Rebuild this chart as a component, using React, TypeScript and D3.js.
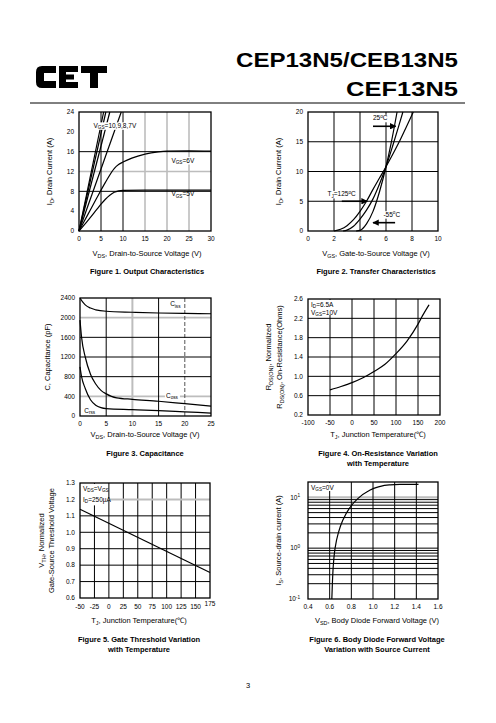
import React from "react";
import * as d3 from "d3";

type Pt = [number, number];
const FONT = "'Liberation Sans', Arial, Helvetica, sans-serif";

// ---------------- Figure 1 : Output characteristics ----------------
const fig1XTicks = [0, 5, 10, 15, 20, 25, 30];
const fig1YTicks = [0, 4, 8, 12, 16, 20, 24];
const fig1GridXBlack = [5, 10];
const fig1GridXGray = [15, 20, 25];
const fig1GridYBlack = [8, 16];
const fig1GridYGray = [12];
const fig1Vgs10: Pt[] = [[0, 0], [5.6, 24]];
const fig1Vgs9: Pt[] = [[0, 0], [6.1, 24]];
const fig1Vgs8: Pt[] = [[0, 0], [7.0, 24]];
const fig1Vgs7: Pt[] = [[0, 0], [9.6, 24]];
const fig1Vgs6: Pt[] = [[0, 0], [2, 3.3], [4, 6.6], [6, 9.8], [8, 12.6], [9, 13.4], [10, 13.9], [12, 14.7], [15, 15.5], [18, 15.95], [20, 16.1], [25, 16.15], [30, 16.1]];
const fig1Vgs5: Pt[] = [[0, 0], [2, 2.1], [4, 4.3], [5, 5.4], [6, 6.4], [7, 7.2], [8, 7.8], [9, 8.1], [10, 8.2], [15, 8.25], [30, 8.25]];

// ---------------- Figure 2 : Transfer characteristics ----------------
const fig2XTicks = [0, 2, 4, 6, 8, 10];
const fig2YTicks = [0, 5, 10, 15, 20];
const fig2GridX = [2, 4, 6, 8];
const fig2GridY = [5, 10, 15];
const fig2T125: Pt[] = [[2, 0], [2.5, 0.3], [3, 0.9], [3.5, 1.9], [4, 3.3], [4.5, 5], [5, 7], [5.5, 8.9], [6, 10.8], [6.5, 12.8], [7, 14.9], [7.5, 17.2], [8.1, 20]];
const fig2T25: Pt[] = [[2.7, 0], [3, 0.15], [3.5, 0.8], [4, 2], [4.5, 3.5], [5, 5.4], [5.5, 7.9], [6, 10.8], [6.5, 14.2], [7, 17.8], [7.3, 20]];
const fig2Tm55: Pt[] = [[3.7, 0], [4, 0.1], [4.5, 1.2], [5, 3.3], [5.5, 6.6], [6, 10.8], [6.4, 14.8], [6.85, 20]];

// ---------------- Figure 3 : Capacitance ----------------
const fig3XTicks = [0, 5, 10, 15, 20, 25];
const fig3YTicks = [0, 400, 800, 1200, 1600, 2000, 2400];
const fig3GridXBlack = [5, 15];
const fig3GridXGray = [10];
const fig3GridXDash = [20];
const fig3GridYBlack = [800, 1200, 1600];
const fig3GridYGray = [400, 2000];
const fig3Ciss: Pt[] = [[0, 2400], [0.5, 2320], [1, 2260], [2, 2195], [3, 2160], [5, 2130], [10, 2110], [15, 2095], [20, 2088], [25, 2080]];
const fig3Coss: Pt[] = [[0, 1950], [0.3, 1600], [1, 1200], [2, 850], [3, 650], [4, 520], [5, 450], [6, 400], [7, 370], [10, 340], [15, 300], [20, 250], [25, 200]];
const fig3Crss: Pt[] = [[0, 1000], [0.3, 800], [1, 560], [2, 330], [3, 220], [4, 170], [5, 150], [10, 130], [15, 110], [20, 85], [25, 60]];

// ---------------- Figure 4 : On-resistance vs temperature ----------------
const fig4XTicks = [-100, -50, 0, 50, 100, 150, 200];
const fig4YTicks = [0.2, 0.6, 1.0, 1.4, 1.8, 2.2, 2.6];
const fig4GridX = [-50, 0, 50, 100, 150];
const fig4GridY = [0.6, 1.0, 1.4, 1.8, 2.2];
const fig4Rds: Pt[] = [[-50, 0.72], [-25, 0.79], [0, 0.87], [25, 0.97], [50, 1.1], [75, 1.25], [100, 1.47], [125, 1.73], [150, 2.08], [160, 2.25], [175, 2.48]];

// ---------------- Figure 5 : Gate threshold vs temperature ----------------
const fig5XTicks = [-50, -25, 0, 25, 50, 75, 100, 125, 150, 175];
const fig5YTicks = [0.6, 0.7, 0.8, 0.9, 1.0, 1.1, 1.2, 1.3];
const fig5GridX = [-25, 0, 25, 50, 75, 100, 125, 150];
const fig5GridYBlack = [0.7, 0.8, 0.9, 1.0, 1.1];
const fig5GridYGray = [1.2];
const fig5Vth: Pt[] = [[-50, 1.14], [175, 0.755]];

// ---------------- Figure 6 : Body diode forward voltage ----------------
const fig6XTicks = [0.4, 0.6, 0.8, 1.0, 1.2, 1.4, 1.6];
const fig6YTicks = [0.1, 1, 10];
const fig6YTickExp = ["-1", "0", "1"];
const fig6GridX = [0.6, 0.8, 1.0, 1.2, 1.4];
const fig6GridYMinor = [0.2, 0.3, 0.4, 0.5, 0.6, 0.7, 0.8, 0.9, 1, 2, 3, 4, 5, 6, 7, 8, 9];
const fig6GridYGray = [10];
const fig6Is: Pt[] = [[0.62, 0.1], [0.625, 0.2], [0.635, 0.5], [0.65, 1.0], [0.68, 2], [0.72, 3.5], [0.78, 6], [0.85, 9], [0.95, 13], [1.05, 16], [1.15, 17.5], [1.25, 18], [1.42, 18]];

// ---------------- helpers ----------------
function rich(s: string, fs: number) {
  const parts = s.split(/(_\{[^}]*\}|\^\{[^}]*\})/).filter((p) => p !== "");
  let shift = 0;
  return parts.map((p, i) => {
    let target = 0;
    let txt = p;
    let size: number | undefined = undefined;
    if (p.startsWith("_{")) {
      target = fs * 0.22;
      txt = p.slice(2, -1);
      size = fs * 0.72;
    } else if (p.startsWith("^{")) {
      target = -fs * 0.4;
      txt = p.slice(2, -1);
      size = fs * 0.72;
    }
    const dy = target - shift;
    shift = target;
    return (
      <tspan key={i} dy={dy !== 0 ? dy : undefined} fontSize={size}>
        {txt}
      </tspan>
    );
  });
}

const TICK_FS = 6.5;
const TITLE_FS = 7.5;
const CAP_FS = 7.5;

type Box = { L: number; R: number; T: number; B: number };

function VGrid({ vals, sx, box, stroke, width = 1, dash }: any) {
  return (
    <g>
      {vals.map((v: number) => (
        <line key={v} x1={sx(v)} x2={sx(v)} y1={box.T} y2={box.B} stroke={stroke} strokeWidth={width} strokeDasharray={dash} />
      ))}
    </g>
  );
}
function HGrid({ vals, sy, box, stroke, width = 1, dash, x1 }: any) {
  return (
    <g>
      {vals.map((v: number) => (
        <line key={v} x1={x1 ?? box.L} x2={box.R} y1={sy(v)} y2={sy(v)} stroke={stroke} strokeWidth={width} strokeDasharray={dash} />
      ))}
    </g>
  );
}
function Frame({ box }: { box: Box }) {
  return <rect x={box.L} y={box.T} width={box.R - box.L} height={box.B - box.T} fill="none" stroke="#000" strokeWidth={1.3} />;
}
function XTickLabels({ vals, sx, box, fmt }: any) {
  return (
    <g fontSize={TICK_FS} textAnchor="middle">
      {vals.map((v: number) => (
        <text key={v} x={sx(v)} y={box.B + 10}>
          {fmt ? fmt(v) : v}
        </text>
      ))}
    </g>
  );
}
function YTickLabels({ vals, sy, box, fmt }: any) {
  return (
    <g fontSize={TICK_FS} textAnchor="end">
      {vals.map((v: number) => (
        <text key={v} x={box.L - 5} y={sy(v) + 2.3}>
          {fmt ? fmt(v) : v}
        </text>
      ))}
    </g>
  );
}
function Label({ x, y, s, fs = 6.5, bg = false, w = 0, anchor = "start" }: any) {
  return (
    <g>
      {bg && <rect x={anchor === "start" ? x - 1 : x - w / 2} y={y - fs * 0.85} width={w} height={fs * 1.15} fill="#fff" />}
      <text x={x} y={y} fontSize={fs} textAnchor={anchor}>
        {rich(s, fs)}
      </text>
    </g>
  );
}
function YTitle({ x, y, s }: any) {
  return (
    <text transform={`translate(${x},${y}) rotate(-90)`} textAnchor="middle" fontSize={TITLE_FS}>
      {rich(s, TITLE_FS)}
    </text>
  );
}
function XTitle({ x, y, s }: any) {
  return (
    <text x={x} y={y} textAnchor="middle" fontSize={TITLE_FS}>
      {rich(s, TITLE_FS)}
    </text>
  );
}
function Caption({ x, y, lines }: any) {
  return (
    <g fontSize={CAP_FS} fontWeight="bold" textAnchor="middle">
      {lines.map((l: string, i: number) => (
        <text key={i} x={x} y={y + i * 10}>
          {l}
        </text>
      ))}
    </g>
  );
}

const fmt1 = (v: number) => v.toFixed(1);
const DEGC = "\u2103";

// ---------------- figures ----------------
function Fig1() {
  const box = { L: 79, R: 211, T: 112, B: 231 };
  const sx = d3.scaleLinear().domain([0, 30]).range([box.L, box.R]);
  const sy = d3.scaleLinear().domain([0, 24]).range([box.B, box.T]);
  const line = d3.line<Pt>().x((d) => sx(d[0])).y((d) => sy(d[1])).curve(d3.curveMonotoneX);
  const curves = [fig1Vgs10, fig1Vgs9, fig1Vgs8, fig1Vgs7, fig1Vgs6, fig1Vgs5];
  return (
    <g>
      <VGrid vals={fig1GridXGray} sx={sx} box={box} stroke="#bdbdbd" width={1.6} />
      <HGrid vals={fig1GridYGray} sy={sy} box={box} stroke="#bdbdbd" width={1.6} />
      <VGrid vals={fig1GridXBlack} sx={sx} box={box} stroke="#000" width={1} />
      <HGrid vals={fig1GridYBlack} sy={sy} box={box} stroke="#000" width={1} />
      {curves.map((c, i) => (
        <path key={i} d={line(c) || ""} fill="none" stroke="#000" strokeWidth={1.2} />
      ))}
      <Label x={sx(3.3)} y={sy(20.8)} s="V_{GS}=10,9,8,7V" bg w={48} />
      <Label x={sx(21)} y={sy(13.8)} s="V_{GS}=6V" bg w={23} />
      <Label x={sx(21)} y={sy(7.0)} s="V_{GS}=5V" />
      <Frame box={box} />
      <XTickLabels vals={fig1XTicks} sx={sx} box={box} />
      <YTickLabels vals={fig1YTicks} sy={sy} box={box} />
      <YTitle x={52} y={(box.T + box.B) / 2} s="I_{D}, Drain Current (A)" />
      <XTitle x={147} y={256} s="V_{DS}, Drain-to-Source Voltage (V)" />
      <Caption x={147} y={274} lines={["Figure 1. Output Characteristics"]} />
    </g>
  );
}

function Fig2() {
  const box = { L: 308, R: 438, T: 112, B: 231 };
  const sx = d3.scaleLinear().domain([0, 10]).range([box.L, box.R]);
  const sy = d3.scaleLinear().domain([0, 20]).range([box.B, box.T]);
  const line = d3.line<Pt>().x((d) => sx(d[0])).y((d) => sy(d[1])).curve(d3.curveMonotoneX);
  return (
    <g>
      <defs>
        <marker id="ah" viewBox="0 0 10 10" refX={9} refY={5} markerWidth={4} markerHeight={4} orient="auto">
          <path d="M0,0 L10,5 L0,10 z" fill="#000" />
        </marker>
      </defs>
      <VGrid vals={fig2GridX} sx={sx} box={box} stroke="#000" />
      <HGrid vals={fig2GridY} sy={sy} box={box} stroke="#000" />
      {[fig2T125, fig2T25, fig2Tm55].map((c, i) => (
        <path key={i} d={line(c) || ""} fill="none" stroke="#000" strokeWidth={1.2} />
      ))}
      <Label x={sx(5.0)} y={sy(18.6)} s="25^{o}C" bg w={17} />
      <line x1={sx(5.0)} x2={sx(6.75)} y1={sy(17.6)} y2={sy(17.6)} stroke="#000" strokeWidth={1.6} markerEnd="url(#ah)" />
      <Label x={sx(1.5)} y={sy(5.8)} s="T_{J}=125^{o}C" bg w={30} />
      <line x1={sx(2.6)} x2={sx(4.55)} y1={sy(5.0)} y2={sy(5.0)} stroke="#000" strokeWidth={1.6} markerEnd="url(#ah)" />
      <Label x={sx(5.8)} y={sy(2.4)} s="-55^{o}C" bg w={19} />
      <line x1={sx(6.7)} x2={sx(5.0)} y1={sy(1.4)} y2={sy(1.4)} stroke="#000" strokeWidth={1.6} markerEnd="url(#ah)" />
      <Frame box={box} />
      <XTickLabels vals={fig2XTicks} sx={sx} box={box} />
      <YTickLabels vals={fig2YTicks} sy={sy} box={box} />
      <YTitle x={281} y={(box.T + box.B) / 2} s="I_{D}, Drain Current (A)" />
      <XTitle x={376} y={256} s="V_{GS}, Gate-to-Source Voltage (V)" />
      <Caption x={376} y={274} lines={["Figure 2. Transfer Characteristics"]} />
    </g>
  );
}

function Fig3() {
  const box = { L: 80, R: 211, T: 298, B: 416 };
  const sx = d3.scaleLinear().domain([0, 25]).range([box.L, box.R]);
  const sy = d3.scaleLinear().domain([0, 2400]).range([box.B, box.T]);
  const line = d3.line<Pt>().x((d) => sx(d[0])).y((d) => sy(d[1])).curve(d3.curveMonotoneX);
  return (
    <g>
      <VGrid vals={fig3GridXGray} sx={sx} box={box} stroke="#bdbdbd" width={2} />
      <HGrid vals={fig3GridYGray} sy={sy} box={box} stroke="#bdbdbd" width={1.6} />
      <VGrid vals={fig3GridXBlack} sx={sx} box={box} stroke="#000" />
      <VGrid vals={fig3GridXDash} sx={sx} box={box} stroke="#555" dash="4,2" />
      <HGrid vals={fig3GridYBlack} sy={sy} box={box} stroke="#000" />
      {[fig3Ciss, fig3Coss, fig3Crss].map((c, i) => (
        <path key={i} d={line(c) || ""} fill="none" stroke="#000" strokeWidth={1.2} />
      ))}
      <Label x={sx(17.2)} y={sy(2230)} s="C_{iss}" bg w={14} />
      <Label x={sx(16.4)} y={sy(370)} s="C_{oss}" bg w={15} />
      <Label x={sx(0.8)} y={sy(70)} s="C_{rss}" bg w={13} />
      <Frame box={box} />
      <XTickLabels vals={fig3XTicks} sx={sx} box={box} />
      <YTickLabels vals={fig3YTicks} sy={sy} box={box} />
      <YTitle x={50} y={(box.T + box.B) / 2} s="C, Capacitance (pF)" />
      <XTitle x={145} y={437} s="V_{DS}, Drain-to-Source Voltage (V)" />
      <Caption x={145} y={456} lines={["Figure 3. Capacitance"]} />
    </g>
  );
}

function Fig4() {
  const box = { L: 308, R: 440, T: 299, B: 415 };
  const sx = d3.scaleLinear().domain([-100, 200]).range([box.L, box.R]);
  const sy = d3.scaleLinear().domain([0.2, 2.6]).range([box.B, box.T]);
  const line = d3.line<Pt>().x((d) => sx(d[0])).y((d) => sy(d[1])).curve(d3.curveMonotoneX);
  return (
    <g>
      <VGrid vals={fig4GridX} sx={sx} box={box} stroke="#000" />
      <HGrid vals={fig4GridY} sy={sy} box={box} stroke="#000" />
      <rect x={box.L + 1} y={box.T + 1} width={sx(-44) - box.L - 1} height={sy(2.27) - box.T - 1} fill="#fff" />
      <Label x={box.L + 3} y={box.T + 8} s="I_{D}=6.5A" />
      <Label x={box.L + 3} y={box.T + 16} s="V_{GS}=10V" />
      <path d={line(fig4Rds) || ""} fill="none" stroke="#000" strokeWidth={1.2} />
      <Frame box={box} />
      <XTickLabels vals={fig4XTicks} sx={sx} box={box} />
      <YTickLabels vals={fig4YTicks} sy={sy} box={box} fmt={fmt1} />
      <YTitle x={271} y={(box.T + box.B) / 2} s="R_{DS(ON)}, Normalized" />
      <YTitle x={282} y={(box.T + box.B) / 2} s="R_{DS(ON)}, On-Resistance(Ohms)" />
      <XTitle x={378} y={437} s={"T_{J}, Junction Temperature(" + DEGC + ")"} />
      <Caption x={378} y={456} lines={["Figure 4. On-Resistance Variation", "with Temperature"]} />
    </g>
  );
}

function Fig5() {
  const box = { L: 80, R: 210, T: 483, B: 598 };
  const sx = d3.scaleLinear().domain([-50, 175]).range([box.L, box.R]);
  const sy = d3.scaleLinear().domain([0.6, 1.3]).range([box.B, box.T]);
  const line = d3.line<Pt>().x((d) => sx(d[0])).y((d) => sy(d[1]));
  return (
    <g>
      <VGrid vals={fig5GridX} sx={sx} box={box} stroke="#000" />
      <HGrid vals={fig5GridYBlack} sy={sy} box={box} stroke="#000" />
      <HGrid vals={fig5GridYGray} sy={sy} box={box} stroke="#bdbdbd" width={2} x1={sx(-2)} />
      <rect x={box.L + 1} y={box.T + 1} width={sx(-4) - box.L - 1} height={sy(1.17) - box.T} fill="#fff" />
      <Label x={box.L + 3} y={box.T + 8} s="V_{DS}=V_{GS}" />
      <Label x={box.L + 3} y={sy(1.2) + 2.3} s={"I_{D}=250\u00b5A"} />
      <path d={line(fig5Vth) || ""} fill="none" stroke="#000" strokeWidth={1.2} />
      <Frame box={box} />
      <g fontSize={TICK_FS} textAnchor="middle">
        {fig5XTicks.map((v) => (
          <text key={v} x={sx(v)} y={box.B + (v === 175 ? 8 : 11)}>
            {v}
          </text>
        ))}
      </g>
      <YTickLabels vals={fig5YTicks} sy={sy} box={box} fmt={fmt1} />
      <YTitle x={44} y={(box.T + box.B) / 2} s="V_{TH}, Normalized" />
      <YTitle x={54} y={(box.T + box.B) / 2} s="Gate-Source Threshold Voltage" />
      <XTitle x={139} y={623} s={"T_{J}, Junction Temperature(" + DEGC + ")"} />
      <Caption x={139} y={642} lines={["Figure 5. Gate Threshold Variation", "with Temperature"]} />
    </g>
  );
}

function Fig6() {
  const box = { L: 308, R: 438, T: 482, B: 599 };
  const sx = d3.scaleLinear().domain([0.4, 1.6]).range([box.L, box.R]);
  const sy = d3.scaleLog().domain([0.1, 20]).range([box.B, box.T]);
  const line = d3.line<Pt>().x((d) => sx(d[0])).y((d) => sy(d[1])).curve(d3.curveMonotoneY);
  return (
    <g>
      <HGrid vals={fig6GridYGray} sy={sy} box={box} stroke="#bdbdbd" width={2.2} />
      <VGrid vals={fig6GridX} sx={sx} box={box} stroke="#000" />
      <HGrid vals={fig6GridYMinor} sy={sy} box={box} stroke="#000" />
      <rect x={box.L + 1} y={box.T + 1} width={24} height={8} fill="#fff" />
      <Label x={box.L + 3} y={box.T + 7.5} s="V_{GS}=0V" />
      <path d={line(fig6Is) || ""} fill="none" stroke="#000" strokeWidth={1.2} />
      <Frame box={box} />
      <XTickLabels vals={fig6XTicks} sx={sx} box={box} fmt={fmt1} />
      <g fontSize={TICK_FS} textAnchor="end">
        {fig6YTicks.map((v, i) => (
          <text key={v} x={box.L - 8} y={sy(v) + 2.3}>
            {rich("10^{" + fig6YTickExp[i] + "}", TICK_FS)}
          </text>
        ))}
      </g>
      <YTitle x={281} y={(box.T + box.B) / 2} s="I_{S}, Source-drain current (A)" />
      <XTitle x={377} y={623} s="V_{SD}, Body Diode Forward Voltage (V)" />
      <Caption x={377} y={642} lines={["Figure 6. Body Diode Forward Voltage", "Variation with Source Current"]} />
    </g>
  );
}

function Header() {
  return (
    <g>
      <g transform="translate(36,66)" fill="#000">
        <path d="M20,0 H6 Q0,0 0,6 V16 Q0,22 6,22 H20 V15 H8 V7 H20 Z" />
        <rect x={23} y={0} width={19} height={6} />
        <rect x={23} y={8.5} width={15} height={5} />
        <rect x={23} y={16} width={19} height={6} />
        <rect x={23} y={0} width={7} height={22} />
        <rect x={45} y={0} width={26} height={7} />
        <rect x={54} y={0} width={8} height={22} />
      </g>
      <text x={458} y={67} textAnchor="end" fontSize={20} fontWeight="bold" textLength={222} lengthAdjust="spacingAndGlyphs">
        CEP13N5/CEB13N5
      </text>
      <text x={458} y={96} textAnchor="end" fontSize={20} fontWeight="bold" textLength={112} lengthAdjust="spacingAndGlyphs">
        CEF13N5
      </text>
      <line x1={30} x2={465} y1={103} y2={103} stroke="#000" strokeWidth={1} />
    </g>
  );
}

export default function App() {
  return (
    <svg width={496} height={723} style={{ position: "absolute", left: 0, top: 0 }} fontFamily={FONT}>
      <rect width={496} height={723} fill="#fff" />
      <Header />
      <Fig1 />
      <Fig2 />
      <Fig3 />
      <Fig4 />
      <Fig5 />
      <Fig6 />
      <text x={248} y={688} textAnchor="middle" fontSize={7.5}>
        3
      </text>
    </svg>
  );
}
